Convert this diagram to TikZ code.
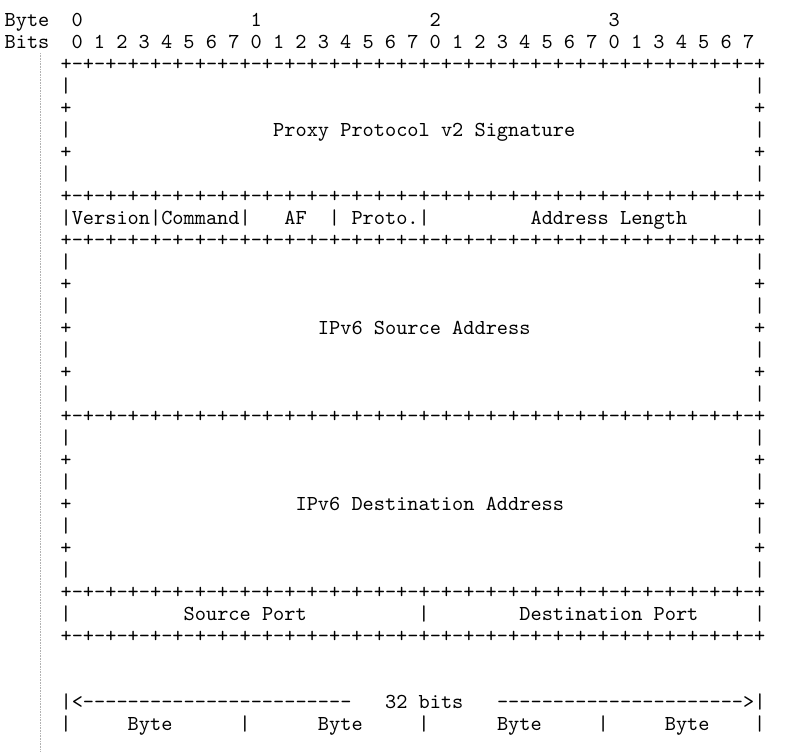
\documentclass[tikz,border=0pt]{standalone}
\usepackage{fontspec}
\newfontfamily\mono{lmmono10-regular}[Extension=.otf]

\def\rulerow{+-+-+-+-+-+-+-+-%
+-+-+-+-+-+-+-+-%
+-+-+-+-+-+-+-+-%
+-+-+-+-+-+-+-+}

\tikzset{
  glyph/.style={font=\mono\fontsize{21.31}{22}\selectfont, text=black, inner sep=0pt, anchor=base},
  field/.style={glyph, anchor=base west},
  gutter/.style={densely dotted, black!30, line width=0.6pt}
}

\begin{document}
\begin{tikzpicture}[x=11.19pt, y=-22pt]
  \useasboundingbox (-5.898,-1.182) rectangle (64.611,32.955);

  % gutter line on the left
  \coordinate (gtop) at (-2.32,1.23);
  \coordinate (gbot) at (-2.32,32.955);
  \draw[gutter] (gtop) -- (gbot);

  % header
  \node[field] (bytelbl) at (-5.5,0) {Byte};
  \node[field] (bitslbl) at (-5.5,1) {Bits};
  \foreach \b in {0,...,3}
    \node[glyph] (byte\b) at (1+16*\b,0) {\b};
  \foreach \d [count=\k from 0] in {0,1,2,3,4,5,6,7,0,1,2,3,4,5,6,7,0,1,2,3,4,5,6,7,0,1,3,4,5,6,7}
    \node[glyph] (bit\k) at (1+2*\k,1) {\d};

  % rule rows and side walls
  \foreach \r in {2,8,10,18,26,28}
    \node[field] (rule\r) at (-0.5,\r) {\rulerow};
  \foreach \r in {3,5,7,11,13,15,17,19,21,23,25} {
    \node[glyph] (wl\r) at (0,\r) {|};
    \node[glyph] (wr\r) at (62,\r) {|};
  }
  \foreach \r in {4,6,12,14,16,20,22,24} {
    \node[glyph] (pl\r) at (0,\r) {+};
    \node[glyph] (pr\r) at (62,\r) {+};
  }

  % fields
  \node[field] (sig) at (18.5,5) {Proxy Protocol v2 Signature};

  \node[field] (vercmd) at (-0.5,9) {|Version|Command|};
  \node[field] (af) at (19.5,9) {AF};
  \node[glyph] (sepaf) at (24,9) {|};
  \node[field] (proto) at (25.5,9) {Proto.|};
  \node[field] (addrlen) at (41.5,9) {Address Length};
  \node[glyph] (sepend) at (62,9) {|};

  \node[field] (src) at (22.5,14) {IPv6 Source Address};
  \node[field] (dst) at (20.5,22) {IPv6 Destination Address};

  \node[glyph] (pl27) at (0,27) {|};
  \node[field] (sport) at (10.5,27) {Source Port};
  \node[glyph] (pm27) at (32,27) {|};
  \node[field] (dport) at (40.5,27) {Destination Port};
  \node[glyph] (pr27) at (62,27) {|};

  % width legend
  \node[field] (arrl) at (-0.5,31) {|<------------------------};
  \node[field] (bits) at (28.5,31) {32 bits};
  \node[field] (arrr) at (38.5,31) {---------------------->|};
  \foreach \c in {0,16,32,48,62}
    \node[glyph] (bar\c) at (\c,32) {|};
  \foreach \c [count=\k] in {6,23,39,54}
    \node[field] (bytecell\k) at (\c-0.5,32) {Byte};
\end{tikzpicture}
\end{document}
